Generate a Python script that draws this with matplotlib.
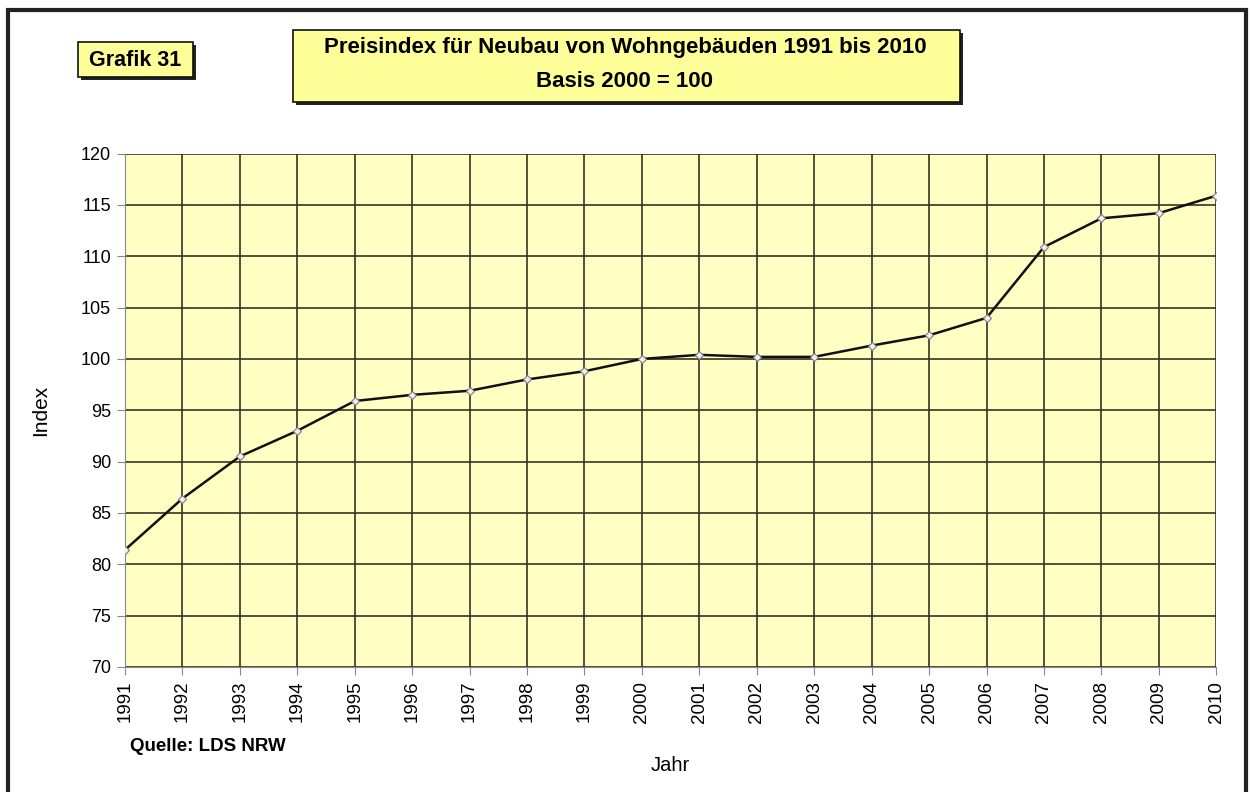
import matplotlib
matplotlib.use('Agg')
import matplotlib.pyplot as plt
from matplotlib.patches import Rectangle

plt.rcParams['font.family'] = ['Liberation Sans', 'DejaVu Sans']

# Preisindex (Basis 2000 = 100)
years = [1991, 1992, 1993, 1994, 1995, 1996, 1997, 1998, 1999, 2000,
         2001, 2002, 2003, 2004, 2005, 2006, 2007, 2008, 2009, 2010]
index = [81.4, 86.4, 90.5, 93.0, 95.9, 96.5, 96.9, 98.0, 98.8, 100.0,
         100.4, 100.2, 100.2, 101.3, 102.3, 104.0, 110.9, 113.7, 114.2, 115.9]
yticks = [70, 75, 80, 85, 90, 95, 100, 105, 110, 115, 120]

fig = plt.figure(figsize=(12.5, 7.92), dpi=100)
fig.patch.set_facecolor('white')

def box(x0, y0, x1, y1):
    # yellow box with a dark drop shadow, given in figure pixels from top-left
    W, H = 1250.0, 792.0
    fig.add_artist(Rectangle(((x0 + 3) / W, 1 - (y1 + 3) / H), (x1 - x0) / W, (y1 - y0) / H,
                             transform=fig.transFigure, facecolor='#222222', edgecolor='none'))
    fig.add_artist(Rectangle((x0 / W, 1 - y1 / H), (x1 - x0) / W, (y1 - y0) / H,
                             transform=fig.transFigure, facecolor='#FFFF99',
                             edgecolor='#111111', linewidth=1.2))

# outer frame
fig.add_artist(Rectangle((0.006, -0.01), 0.991, 0.998, transform=fig.transFigure,
                         fill=False, edgecolor='#222222', linewidth=3))

ax = fig.add_axes([0.1, 0.158, 0.873, 0.648])
ax.set_facecolor('#FFFFC4')
x = list(range(len(years)))
ax.plot(x, index, color='#111111', linewidth=1.8, marker='D', markersize=4.5,
        markerfacecolor='#F4F4D0', markeredgecolor='#7777AA', markeredgewidth=0.8, zorder=3)

ax.set_xlim(0, len(years) - 1)
ax.set_ylim(70, 120)
ax.set_yticks(yticks)
ax.set_xticks(x)
ax.set_xticklabels([str(y) for y in years], rotation=90, fontsize=13.5)
ax.tick_params(axis='y', labelsize=13, length=6, color='#888888', pad=4)
ax.tick_params(axis='x', length=6, color='#888888', pad=4)
ax.grid(True, color='#333322', linewidth=1.2)
ax.set_axisbelow(True)
for s in ['top', 'right']:
    ax.spines[s].set_visible(False)
for s in ['left', 'bottom']:
    ax.spines[s].set_color('#888888')

ax.set_ylabel('Index', fontsize=15, labelpad=22)
ax.set_xlabel('Jahr', fontsize=14.5, labelpad=24)

# title box
box(293, 30, 960, 102)
fig.text(0.5, 0.9395, 'Preisindex für Neubau von Wohngebäuden 1991 bis 2010',
         ha='center', va='center', fontsize=16, fontweight='bold')
fig.text(0.5, 0.8975, 'Basis 2000 = 100',
         ha='center', va='center', fontsize=16, fontweight='bold')

box(78, 42, 193, 77)
fig.text(0.108, 0.9235, 'Grafik 31', ha='center', va='center', fontsize=15.5, fontweight='bold')

fig.text(0.104, 0.058, 'Quelle: LDS NRW', ha='left', va='center', fontsize=13.5, fontweight='bold')

fig.savefig('out.png', dpi=100)
